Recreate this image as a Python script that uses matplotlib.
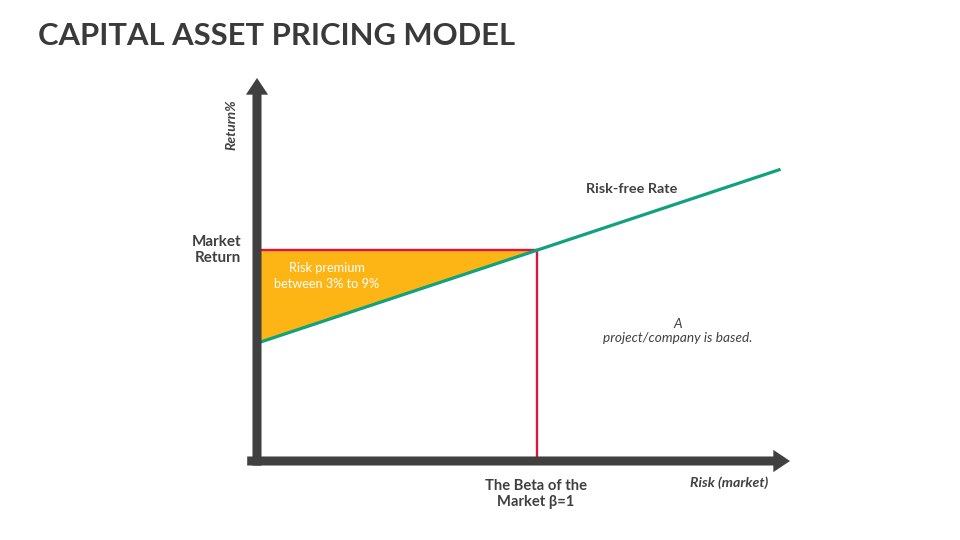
import numpy as np
import matplotlib.pyplot as plt

# CAPM picture: beta on x, return % on y
risk_free = 3.8
market_return = 6.8
beta_market = 1.0
beta_line = np.array([0.0, 1.0, 1.87])
sml = risk_free + beta_line * (market_return - risk_free)

dark = '#404040'
green = '#0FA27C'
red = '#D9163F'
orange = '#FDB515'

fig = plt.figure(figsize=(9.6, 5.4), dpi=100)
ax = fig.add_axes([0, 0, 1, 1])
# origin of the axes sits at about pixel (257, 461)
ax.set_xlim(-257 / 280, (960 - 257) / 280)
ax.set_ylim(-(540 - 461) / 31, 461 / 31)
ax.axis('off')

# shaded risk premium
xs = np.array([0.0, beta_market])
ax.fill_between(xs, risk_free + xs * (market_return - risk_free), market_return,
                color=orange, lw=0, zorder=1)

# market return / beta guides
ax.plot([0, beta_market], [market_return, market_return], color=red, lw=1.7, zorder=2)
ax.plot([beta_market, beta_market], [0, market_return], color=red, lw=1.7, zorder=2)

# security market line
ax.plot(beta_line, sml, color=green, lw=2.3, zorder=3, solid_capstyle='butt')

# axes arrows
arrow = dict(arrowstyle='simple,head_width=1.6,head_length=1.2,tail_width=0.65',
             color=dark, lw=0, shrinkA=0, shrinkB=0, mutation_scale=10)
ax.annotate('', xy=(0, (461 - 78) / 31), xytext=(0, -0.15), arrowprops=arrow, zorder=4)
ax.annotate('', xy=((790 - 257) / 280, 0), xytext=(-0.035, 0), arrowprops=arrow, zorder=4)


def px(x, y):
    return x / 960, 1 - y / 540


fig.text(*px(38, 36), 'CAPITAL ASSET PRICING MODEL', fontsize=22.3, fontweight='bold',
         color='#3A3A3A', family='Lato', va='center', ha='left')
fig.text(*px(231, 125), 'Return%', fontsize=10, fontweight='bold', style='italic',
         color=dark, rotation=90, ha='center', va='center', family='Lato')
fig.text(*px(241, 250), 'Market\nReturn', fontsize=10.9, fontweight='bold', color=dark,
         ha='right', va='center', family='Lato', linespacing=1.2)
fig.text(*px(327, 276), 'Risk premium\nbetween 3% to 9%', fontsize=9.2, color='white',
         ha='center', va='center', family='Lato', linespacing=1.3)
fig.text(*px(632, 189), 'Risk-free Rate', fontsize=10.4, fontweight='bold', color=dark,
         ha='center', va='center', family='Lato')
fig.text(*px(678, 331), 'A\nproject/company is based.', fontsize=9.8, style='italic',
         color=dark, ha='center', va='center', family='Lato', linespacing=1.2)
fig.text(*px(536, 494), 'The Beta of the\nMarket β=1', fontsize=10.6, fontweight='bold',
         color=dark, ha='center', va='center', family='Lato', linespacing=1.2)
fig.text(*px(729, 483), 'Risk (market)', fontsize=10.2, fontweight='bold', style='italic',
         color=dark, ha='center', va='center', family='Lato')

fig.savefig('out.png', dpi=100)
